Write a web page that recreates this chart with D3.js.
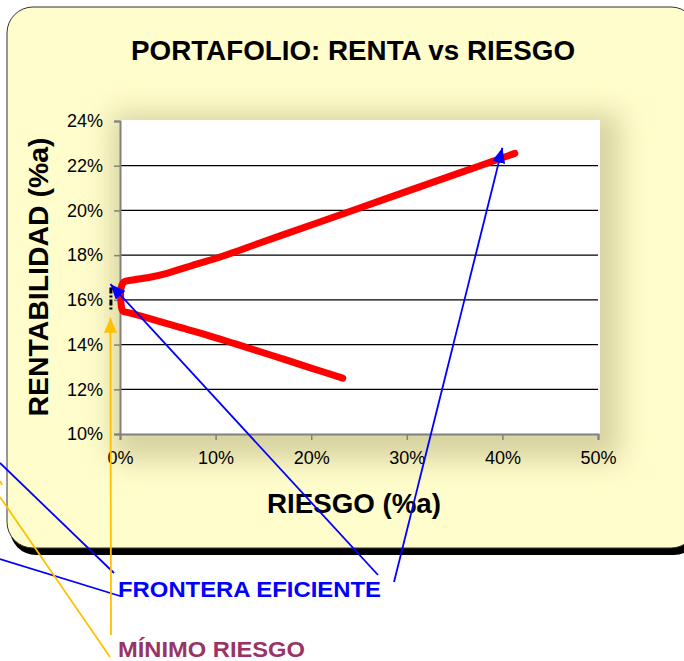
<!DOCTYPE html>
<html>
<head>
<meta charset="utf-8">
<script src="https://cdn.jsdelivr.net/npm/d3@7"></script>
<style>
  body { margin: 0; background: #fff; }
  text { font-family: Arial, "Liberation Sans", sans-serif; }
</style>
</head>
<body>
<svg id="chart" width="684" height="661"></svg>
<script>
/*  Data (percent)  */
const riesgo = [23.3, 20, 16, 12, 8.5, 6, 4, 2, 1, 0.3, 0.1, 0.1, 0.4, 1.5, 3, 5, 8, 10, 15, 20, 25, 30, 35, 41.3];
const renta  = [12.5, 12.95, 13.5, 14.04, 14.5, 14.8, 15.05, 15.3, 15.42, 15.5, 15.9, 16.5, 16.8, 16.9, 17.0, 17.2, 17.6, 17.85, 18.6, 19.35, 20.1, 20.85, 21.6, 22.55];
const xTicks = [0, 10, 20, 30, 40, 50];
const yTicks = [10, 12, 14, 16, 18, 20, 22, 24];
const gridTicks = [12, 14, 16, 18, 20, 22];

const points = riesgo.map((r, i) => ({risk: r, ret: renta[i]}));

/*  Dimensions  */
const plot = {left: 120, right: 598, top: 121, bottom: 434};

const svg = d3.select("#chart");
const defs = svg.append("defs");

const xScale = d3.scaleLinear().domain([0, 50]).range([plot.left, plot.right]);
const yScale = d3.scaleLinear().domain([10, 24]).range([plot.bottom, plot.top]);

/* ---------- chart box ---------- */
svg.append("rect")
  .attr("x", 10).attr("y", 14)
  .attr("width", 690).attr("height", 541)
  .attr("rx", 26)
  .attr("fill", "#000");

svg.append("rect")
  .attr("x", 7).attr("y", 7)
  .attr("width", 690).attr("height", 541)
  .attr("rx", 26)
  .attr("fill", "#fffdcb")
  .attr("stroke", "#333")
  .attr("stroke-width", 1);

/* soft shadow behind plot area */
defs.append("filter").attr("id", "blur")
  .attr("x", "-30%").attr("y", "-30%").attr("width", "160%").attr("height", "160%")
  .append("feGaussianBlur").attr("stdDeviation", 14);

svg.append("rect")
  .attr("x", plot.left - 8).attr("y", plot.top - 8)
  .attr("width", plot.right - plot.left + 30)
  .attr("height", plot.bottom - plot.top + 34)
  .attr("fill", "#c9c493")
  .attr("opacity", 0.75)
  .attr("filter", "url(#blur)");

svg.append("rect")
  .attr("x", plot.left).attr("y", plot.top - 1)
  .attr("width", plot.right - plot.left + 2)
  .attr("height", plot.bottom - plot.top + 1)
  .attr("fill", "#fff");

/* ---------- grid ---------- */
svg.append("g")
  .selectAll("line")
  .data(gridTicks)
  .join("line")
  .attr("x1", plot.left).attr("x2", plot.right)
  .attr("y1", d => yScale(d)).attr("y2", d => yScale(d))
  .attr("stroke", "#000")
  .attr("stroke-width", 1.2);

/* ---------- axes ---------- */
const xAxis = d3.axisBottom(xScale).tickValues(xTicks)
  .tickFormat(d => d + "%").tickSize(6).tickPadding(11);
const yAxis = d3.axisLeft(yScale).tickValues(yTicks)
  .tickFormat(d => d + "%").tickSize(6).tickPadding(11);

const gx = svg.append("g").attr("transform", `translate(0,${plot.bottom})`).call(xAxis);
const gy = svg.append("g").attr("transform", `translate(${plot.left},0)`).call(yAxis);

[gx, gy].forEach(g => {
  g.select(".domain").attr("stroke", "#808080").attr("stroke-width", 2);
  g.selectAll(".tick line").attr("stroke", "#808080").attr("stroke-width", 1.5);
  g.selectAll(".tick text")
    .attr("fill", "#000")
    .style("font-size", "18px")
    .style("font-family", "Arial, 'Liberation Sans', sans-serif");
});

/* ---------- frontier line ---------- */
const lineGen = d3.line()
  .x(d => xScale(d.risk))
  .y(d => yScale(d.ret))
  .curve(d3.curveCatmullRom.alpha(0.5));

svg.append("path")
  .datum(points)
  .attr("d", lineGen)
  .attr("fill", "none")
  .attr("stroke", "#ff0000")
  .attr("stroke-width", 7)
  .attr("stroke-linejoin", "round")
  .attr("stroke-linecap", "round");

/* ---------- titles ---------- */
svg.append("text")
  .attr("x", 353).attr("y", 60)
  .attr("text-anchor", "middle")
  .attr("textLength", 444).attr("lengthAdjust", "spacingAndGlyphs")
  .style("font-size", "28px").style("font-weight", "bold")
  .text("PORTAFOLIO: RENTA vs RIESGO");

svg.append("text")
  .attr("x", 354).attr("y", 513)
  .attr("text-anchor", "middle")
  .attr("textLength", 174).attr("lengthAdjust", "spacingAndGlyphs")
  .style("font-size", "28px").style("font-weight", "bold")
  .text("RIESGO (%a)");

svg.append("text")
  .attr("transform", "translate(48,277) rotate(-90)")
  .attr("text-anchor", "middle")
  .attr("textLength", 279).attr("lengthAdjust", "spacingAndGlyphs")
  .style("font-size", "28px").style("font-weight", "bold")
  .text("RENTABILIDAD (%a)");

/* ---------- annotations ---------- */
function arrowHead(id, color){
  defs.append("marker")
    .attr("id", id)
    .attr("viewBox", "0 0 15 13")
    .attr("refX", 15).attr("refY", 6.5)
    .attr("markerWidth", 15).attr("markerHeight", 13)
    .attr("markerUnits", "userSpaceOnUse")
    .attr("orient", "auto")
    .append("path")
    .attr("d", "M0,0 L15,6.5 L0,13 Z")
    .attr("fill", color);
}
arrowHead("head-blue", "#0000ff");
arrowHead("head-gold", "#ffc000");

// tail in page pixels, tip in data units (risk %, return %)
const arrows = [
  {tail: [394, 582], tip: [40, 22.8],  color: "#0000ff", head: "head-blue"},
  {tail: [378, 575], tip: [-1, 16.7],  color: "#0000ff", head: "head-blue"},
  {tail: [111, 635], tip: [-1, 15.2],  color: "#ffc000", head: "head-gold"}
];

// plain leader lines coming from outside the page
const leaders = [
  {p1: [0, 463], p2: [114, 573], color: "#0000ff"},
  {p1: [0, 559], p2: [120, 596], color: "#0000ff"},
  {p1: [0, 497], p2: [110, 657], color: "#ffc000"},
  {p1: [0, 481], p2: [2, 485],   color: "#ffc000"}
];

svg.append("g")
  .selectAll("line")
  .data(leaders)
  .join("line")
  .attr("x1", d => d.p1[0]).attr("y1", d => d.p1[1])
  .attr("x2", d => d.p2[0]).attr("y2", d => d.p2[1])
  .attr("stroke", d => d.color)
  .attr("stroke-width", 1.8);

svg.append("g")
  .selectAll("line")
  .data(arrows)
  .join("line")
  .attr("x1", d => d.tail[0]).attr("y1", d => d.tail[1])
  .attr("x2", d => xScale(d.tip[0])).attr("y2", d => yScale(d.tip[1]))
  .attr("stroke", d => d.color)
  .attr("stroke-width", 1.8)
  .attr("marker-end", d => `url(#${d.head})`);

/* small dashed marker at the minimum-risk point */
svg.append("line")
  .attr("x1", xScale(-0.95)).attr("x2", xScale(-0.95))
  .attr("y1", yScale(16.55)).attr("y2", yScale(15.5))
  .attr("stroke", "#000")
  .attr("stroke-width", 3)
  .attr("stroke-dasharray", "6 2 2 2");

svg.append("text")
  .attr("x", 118).attr("y", 597)
  .attr("textLength", 263).attr("lengthAdjust", "spacingAndGlyphs")
  .attr("fill", "#0000ff")
  .style("font-size", "22px").style("font-weight", "bold")
  .text("FRONTERA EFICIENTE");

svg.append("text")
  .attr("x", 118).attr("y", 657)
  .attr("textLength", 187).attr("lengthAdjust", "spacingAndGlyphs")
  .attr("fill", "#993366")
  .style("font-size", "22px").style("font-weight", "bold")
  .text("MÍNIMO RIESGO");
</script>
</body>
</html>
